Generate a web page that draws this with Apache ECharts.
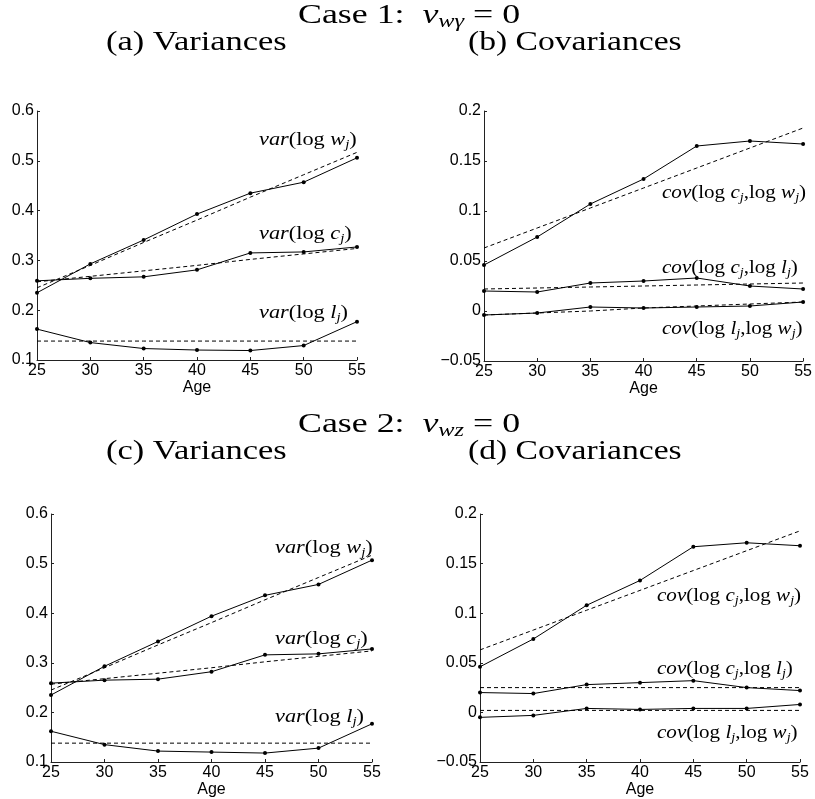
<!DOCTYPE html>
<html>
<head>
<meta charset="utf-8">
<script src="https://cdn.jsdelivr.net/npm/echarts@6/dist/echarts.min.js"></script>
<style>
    html, body { margin: 0; padding: 0; background: #fff; }
    #main { width: 815px; height: 799px; }
</style>
</head>
<body>
<div id="main"></div>
<script>
// ages on x axis
const ages = [25, 30, 35, 40, 45, 50, 55]

// (a) Case 1 variances: solid = data, fit = dashed
const aVarW = [0.235, 0.293, 0.341, 0.393, 0.435, 0.457, 0.506]
const aVarWFit = [0.245, 0.290, 0.336, 0.381, 0.427, 0.472, 0.517]
const aVarC = [0.259, 0.264, 0.267, 0.281, 0.315, 0.317, 0.327]
const aVarCFit = [0.257, 0.268, 0.279, 0.290, 0.302, 0.313, 0.324]
const aVarL = [0.162, 0.135, 0.123, 0.120, 0.119, 0.129, 0.177]
const aVarLFit = [0.138, 0.138, 0.138, 0.138, 0.138, 0.138, 0.138]

// (b) Case 1 covariances
const bCovCW = [0.046, 0.074, 0.107, 0.132, 0.165, 0.170, 0.167]
const bCovCWFit = [0.063, 0.083, 0.103, 0.123, 0.143, 0.163, 0.183]
const bCovCL = [0.020, 0.019, 0.028, 0.030, 0.033, 0.025, 0.022]
const bCovCLFit = [0.022, 0.023, 0.024, 0.025, 0.026, 0.027, 0.028]
const bCovLW = [-0.004, -0.002, 0.004, 0.003, 0.004, 0.005, 0.009]
const bCovLWFit = [-0.004, -0.002, 0.000, 0.003, 0.005, 0.007, 0.009]

// (c) Case 2 variances
const cVarW = [0.235, 0.293, 0.343, 0.394, 0.436, 0.458, 0.507]
const cVarWFit = [0.245, 0.290, 0.336, 0.381, 0.427, 0.472, 0.517]
const cVarC = [0.259, 0.265, 0.267, 0.282, 0.316, 0.318, 0.328]
const cVarCFit = [0.257, 0.268, 0.279, 0.290, 0.302, 0.313, 0.324]
const cVarL = [0.162, 0.135, 0.122, 0.120, 0.118, 0.128, 0.177]
const cVarLFit = [0.138, 0.138, 0.138, 0.138, 0.138, 0.138, 0.138]

// (d) Case 2 covariances
const dCovCW = [0.046, 0.074, 0.108, 0.133, 0.167, 0.171, 0.168]
const dCovCWFit = [0.063, 0.083, 0.103, 0.123, 0.143, 0.163, 0.183]
const dCovCL = [0.020, 0.019, 0.028, 0.030, 0.032, 0.025, 0.022]
const dCovCLFit = [0.025, 0.025, 0.025, 0.025, 0.025, 0.025, 0.025]
const dCovLW = [-0.005, -0.003, 0.004, 0.003, 0.004, 0.004, 0.008]
const dCovLWFit = [0.002, 0.002, 0.002, 0.002, 0.002, 0.002, 0.002]

const serif = 'Liberation Serif'
const sans = 'Liberation Sans'
const axisColor = '#222'

function pairs(arr) {
    return ages.map((a, i) => [a, arr[i]])
}

function solid(arr, idx) {
    return {
        type: 'line', data: pairs(arr), xAxisIndex: idx, yAxisIndex: idx,
        symbol: 'circle', symbolSize: 4, showSymbol: true,
        itemStyle: { color: '#000' },
        lineStyle: { color: '#000', width: 1 },
        silent: true, animation: false, z: 3
    }
}
function dashed(arr, idx) {
    return {
        type: 'line', data: pairs(arr), xAxisIndex: idx, yAxisIndex: idx,
        symbol: 'none',
        lineStyle: { color: '#000', width: 1, type: [4, 3] },
        silent: true, animation: false, z: 2
    }
}

function xAx(idx) {
    return {
        type: 'value', gridIndex: idx, min: 25, max: 55, interval: 5,
        name: 'Age', nameLocation: 'middle', nameGap: 20,
        nameTextStyle: { fontFamily: sans, fontSize: 16, color: '#000' },
        axisLine: { show: true, onZero: false, lineStyle: { color: axisColor, width: 1 } },
        axisTick: { show: true, inside: true, length: 3, lineStyle: { color: axisColor } },
        axisLabel: { fontFamily: sans, fontSize: 16, color: '#000', margin: 3 },
        splitLine: { show: false }
    }
}
function yAx(idx, min, max, step) {
    return {
        type: 'value', gridIndex: idx, min: min, max: max, interval: step,
        axisLine: { show: true, onZero: false, lineStyle: { color: axisColor, width: 1 } },
        axisTick: { show: true, inside: true, length: 3, lineStyle: { color: axisColor } },
        axisLabel: {
            fontFamily: sans, fontSize: 16, color: '#000', margin: 3,
            formatter: v => String(+v.toFixed(2)).replace('-', '\u2212')
        },
        splitLine: { show: false }
    }
}

// rich text styles for the math labels
const mathRich = {
    i: { fontFamily: serif, fontStyle: 'italic', fontSize: 18, color: '#000' },
    n: { fontFamily: serif, fontSize: 18, color: '#000' },
    s: { fontFamily: serif, fontStyle: 'italic', fontSize: 12, color: '#000', padding: [9, 0, 0, 0] }
}
function note(x, y, txt, k) {
    return {
        type: 'text', x: x, y: y, scaleX: k || 1.2, silent: true,
        style: { text: txt, rich: mathRich, fill: '#000', align: 'left', verticalAlign: 'top' }
    }
}
const varW = '{i|var}{n|(log }{i|w}{s|j}{n|)}'
const varC = '{i|var}{n|(log }{i|c}{s|j}{n|)}'
const varL = '{i|var}{n|(log }{i|l}{s|j}{n|)}'
const covCW = '{i|cov}{n|(log }{i|c}{s|j}{n|,log }{i|w}{s|j}{n|)}'
const covCL = '{i|cov}{n|(log }{i|c}{s|j}{n|,log }{i|l}{s|j}{n|)}'
const covLW = '{i|cov}{n|(log }{i|l}{s|j}{n|,log }{i|w}{s|j}{n|)}'

const headRich = {
    n: { fontFamily: serif, fontSize: 28, color: '#000' },
    i: { fontFamily: serif, fontStyle: 'italic', fontSize: 28, color: '#000' },
    s: { fontFamily: serif, fontStyle: 'italic', fontSize: 19, color: '#000', padding: [12, 0, 0, 0] }
}
function head(x, y, txt, k) {
    return {
        type: 'text', x: x, y: y, scaleX: k, silent: true,
        style: { text: txt, rich: headRich, fill: '#000', align: 'left', verticalAlign: 'top' }
    }
}

var chartDom = document.getElementById('main')
var myChart = echarts.init(chartDom, null, { renderer: 'canvas' })
var option = {
    backgroundColor: '#fff',
    animation: false,
    grid: [
        { left: 37, top: 111, width: 320, height: 249 },
        { left: 484, top: 111, width: 321, height: 250 },
        { left: 51, top: 514, width: 321, height: 250 },
        { left: 480, top: 514, width: 320, height: 249 }
    ],
    xAxis: [xAx(0), xAx(1), xAx(2), xAx(3)],
    yAxis: [
        yAx(0, 0.1, 0.6, 0.1),
        yAx(1, -0.05, 0.2, 0.05),
        yAx(2, 0.1, 0.6, 0.1),
        yAx(3, -0.05, 0.2, 0.05)
    ],
    series: [
        solid(aVarW, 0), dashed(aVarWFit, 0),
        solid(aVarC, 0), dashed(aVarCFit, 0),
        solid(aVarL, 0), dashed(aVarLFit, 0),
        solid(bCovCW, 1), dashed(bCovCWFit, 1),
        solid(bCovCL, 1), dashed(bCovCLFit, 1),
        solid(bCovLW, 1), dashed(bCovLWFit, 1),
        solid(cVarW, 2), dashed(cVarWFit, 2),
        solid(cVarC, 2), dashed(cVarCFit, 2),
        solid(cVarL, 2), dashed(cVarLFit, 2),
        solid(dCovCW, 3), dashed(dCovCWFit, 3),
        solid(dCovCL, 3), dashed(dCovCLFit, 3),
        solid(dCovLW, 3), dashed(dCovLWFit, 3)
    ],
    graphic: [
        head(298, 0, '{n|Case 1:  }{i|v}{s|wγ}{n| = 0}', 1.28),
        head(106, 29, '{n|(a) Variances}', 1.23),
        head(468, 29, '{n|(b) Covariances}', 1.2),
        head(298, 409, '{n|Case 2:  }{i|v}{s|wz}{n| = 0}', 1.28),
        head(106, 438, '{n|(c) Variances}', 1.23),
        head(468, 438, '{n|(d) Covariances}', 1.2),
        note(259, 130, varW, 1.24),
        note(259, 224, varC, 1.24),
        note(259, 303, varL, 1.24),
        note(662, 183, covCW, 1.17),
        note(662, 258, covCL, 1.17),
        note(662, 319, covLW, 1.17),
        note(275, 538, varW, 1.24),
        note(275, 629, varC, 1.24),
        note(275, 707, varL, 1.24),
        note(657, 586, covCW, 1.17),
        note(657, 659, covCL, 1.17),
        note(657, 723, covLW, 1.17)
    ]
}
option && myChart.setOption(option)
</script>
</body>
</html>
